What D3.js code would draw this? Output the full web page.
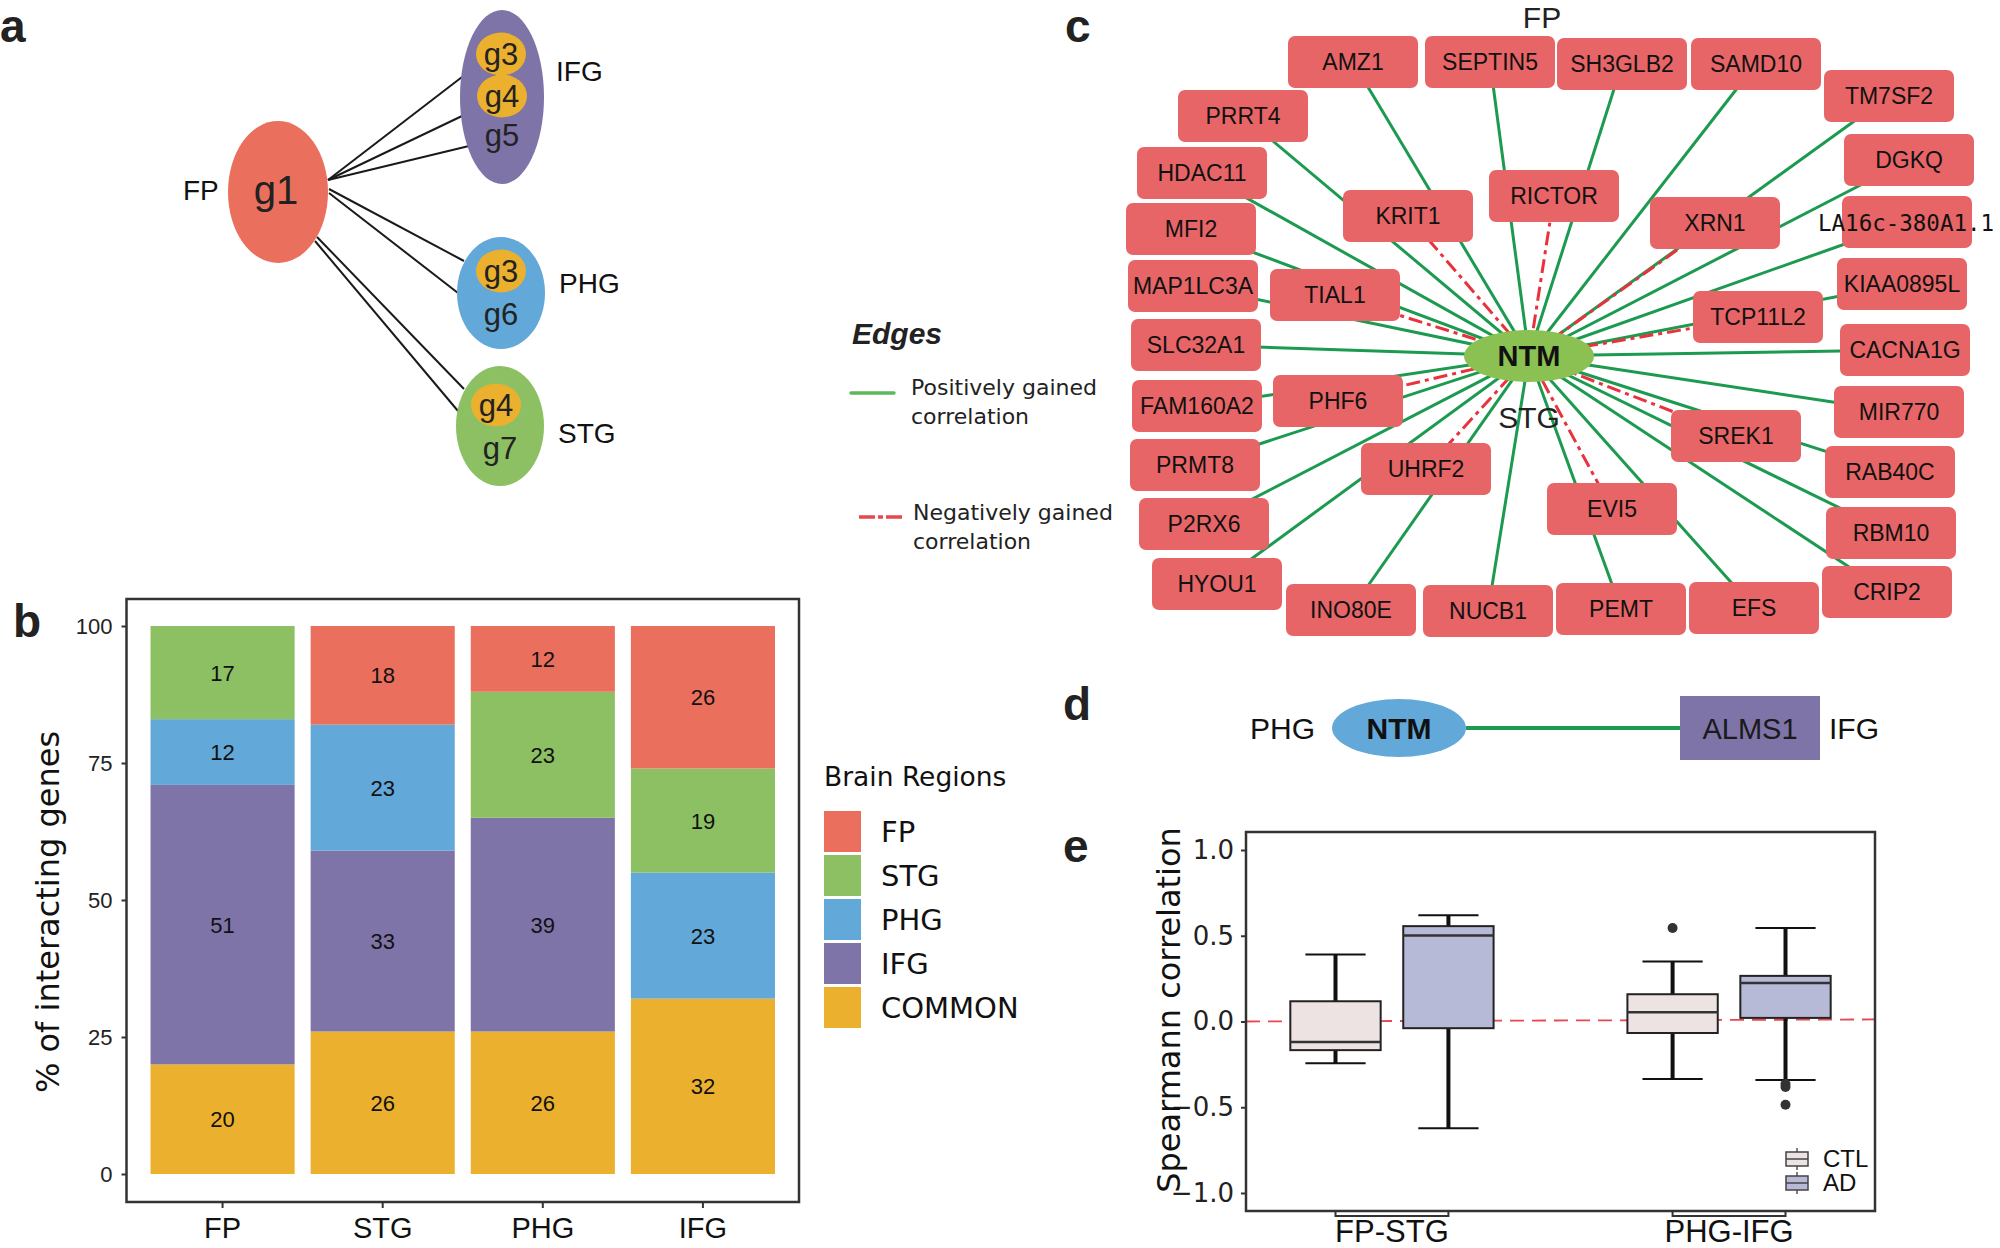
<!DOCTYPE html>
<html>
<head>
<meta charset="utf-8">
<script src="https://cdn.jsdelivr.net/npm/d3@7"></script>
<style>
  body { margin: 0; background: #fff; }
  svg { display: block; }
</style>
</head>
<body>
<script>
// ---------- data ----------
// panel b: % of interacting genes per region, stacked bottom -> top
const regions = ["FP", "STG", "PHG", "IFG"];
const stackKeys = ["COMMON", "IFG", "PHG", "STG", "FP"];
const pctCommon = [20, 26, 26, 32];
const pctIFG = [51, 33, 39, 0];
const pctPHG = [12, 23, 0, 23];
const pctSTG = [17, 0, 23, 19];
const pctFP = [0, 18, 12, 26];
const pctTicks = [0, 25, 50, 75, 100];
const legendRegions = ["FP", "STG", "PHG", "IFG", "COMMON"];

// panel a: genes in each region module
const aTargets = ["IFG", "PHG", "STG"];
const aShared = [["g3", "g4"], ["g3"], ["g4"]];
const aOwn = ["g5", "g6", "g7"];

// panel c: NTM network (FP -> STG)
const hubGene = "NTM";
const posGenes = ["AMZ1", "SEPTIN5", "SH3GLB2", "SAMD10", "TM7SF2", "PRRT4", "DGKQ", "HDAC11",
  "LA16c-380A1.1", "MFI2", "KIAA0895L", "MAP1LC3A", "SLC32A1", "CACNA1G", "FAM160A2", "MIR770",
  "PRMT8", "RAB40C", "P2RX6", "RBM10", "HYOU1", "CRIP2", "INO80E", "NUCB1", "PEMT", "EFS"];
const negGenes = ["RICTOR", "KRIT1", "XRN1", "TIAL1", "TCP11L2", "PHF6", "SREK1", "UHRF2", "EVI5"];

// panel e: Spearman correlation box stats (FP-STG CTL, FP-STG AD, PHG-IFG CTL, PHG-IFG AD)
const boxPairs = ["FP-STG", "PHG-IFG"];
const boxGroups = ["CTL", "AD"];
const boxLow = [-0.243, -0.622, -0.335, -0.341];
const boxQ1 = [-0.167, -0.039, -0.067, 0.021];
const boxMed = [-0.12, 0.502, 0.054, 0.225];
const boxQ3 = [0.118, 0.556, 0.159, 0.266];
const boxHigh = [0.39, 0.62, 0.35, 0.545];
const boxOut = [[], [], [0.545], [-0.365, -0.382, -0.485]];
const corrTicks = [-1, -0.5, 0, 0.5, 1];

// ---------- layout / style ----------
const SANS = "'Liberation Sans', Arial, Helvetica, sans-serif";
const WIDE = "'DejaVu Sans', sans-serif";
const regionColor = { FP: "#EA6F5C", STG: "#8CC063", PHG: "#62A8D8", IFG: "#7E74A8", COMMON: "#EBB02E" };
const boxFill = { CTL: "#EEE3E3", AD: "#B7BAD7" };

// network node placement, offsets from the hub (px)
const netLayout = {
  "AMZ1": [-176, -294], "SEPTIN5": [-39, -294], "SH3GLB2": [93, -292], "SAMD10": [227, -292],
  "TM7SF2": [360, -260], "PRRT4": [-286, -240], "DGKQ": [380, -196], "HDAC11": [-327, -183],
  "RICTOR": [25, -160], "KRIT1": [-121, -140], "XRN1": [186, -133], "LA16c-380A1.1": [378, -134],
  "MFI2": [-338, -127], "KIAA0895L": [373, -72], "MAP1LC3A": [-336, -70], "TIAL1": [-194, -61],
  "TCP11L2": [229, -39], "SLC32A1": [-333, -11], "CACNA1G": [376, -6], "FAM160A2": [-332, 50],
  "PHF6": [-191, 45], "MIR770": [370, 56], "SREK1": [207, 80], "PRMT8": [-334, 109],
  "UHRF2": [-103, 113], "RAB40C": [361, 116], "P2RX6": [-325, 168], "EVI5": [83, 153],
  "RBM10": [362, 177], "HYOU1": [-312, 228], "CRIP2": [358, 236], "INO80E": [-178, 254],
  "NUCB1": [-41, 255], "PEMT": [92, 253], "EFS": [225, 252]
};

const svg = d3.select("body").append("svg")
  .attr("width", 2000).attr("height", 1248)
  .style("font-family", SANS);

function letter(t, x, y) {
  svg.append("text").attr("x", x).attr("y", y).text(t)
    .attr("font-size", 46).attr("font-weight", "bold").attr("fill", "#222");
}
letter("a", 0, 42);
letter("b", 13, 637);
letter("c", 1065, 42);
letter("d", 1063, 720);
letter("e", 1063, 862);

// ---------- panel a ----------
const pa = svg.append("g");
const aFP = { cx: 278, cy: 192, rx: 50, ry: 71 };
const aNodes = [
  { cx: 502, cy: 97, rx: 42, ry: 87, chips: [[501, 54], [502, 96]], own: 146, lab: [556, 81] },
  { cx: 501, cy: 293, rx: 44, ry: 56, chips: [[501, 271]], own: 325, lab: [559, 293] },
  { cx: 500, cy: 426, rx: 44, ry: 60, chips: [[496, 405]], own: 459, lab: [558, 443] }
];
const aLinks = [
  [328, 180, 462, 77], [328, 180, 462, 116], [328, 180, 469, 146],
  [329, 189, 464, 261], [329, 193, 458, 293],
  [317, 237, 464, 389], [315, 241, 458, 411]
];
pa.selectAll("line").data(aLinks).enter().append("line")
  .attr("x1", d => d[0]).attr("y1", d => d[1]).attr("x2", d => d[2]).attr("y2", d => d[3])
  .attr("stroke", "#1a1a1a").attr("stroke-width", 2);
pa.append("ellipse").attr("cx", aFP.cx).attr("cy", aFP.cy).attr("rx", aFP.rx).attr("ry", aFP.ry)
  .attr("fill", regionColor.FP);
pa.append("text").attr("x", 276).attr("y", 204).attr("text-anchor", "middle")
  .attr("font-size", 40).attr("fill", "#222").text("g1");
pa.append("text").attr("x", 183).attr("y", 200).attr("font-size", 28).attr("fill", "#111").text("FP");

aTargets.forEach((r, i) => {
  const n = aNodes[i];
  pa.append("ellipse").attr("cx", n.cx).attr("cy", n.cy).attr("rx", n.rx).attr("ry", n.ry)
    .attr("fill", regionColor[r]);
  aShared[i].forEach((g, j) => {
    const c = n.chips[j];
    pa.append("ellipse").attr("cx", c[0]).attr("cy", c[1]).attr("rx", 25).attr("ry", 21.5)
      .attr("fill", regionColor.COMMON);
    pa.append("text").attr("x", c[0]).attr("y", c[1] + 11).attr("text-anchor", "middle")
      .attr("font-size", 31).attr("fill", "#222").text(g);
  });
  pa.append("text").attr("x", n.cx).attr("y", n.own).attr("text-anchor", "middle")
    .attr("font-size", 31).attr("fill", "#222").text(aOwn[i]);
  pa.append("text").attr("x", n.lab[0]).attr("y", n.lab[1]).attr("font-size", 28)
    .attr("fill", "#111").text(r);
});

// ---------- panel b ----------
const pb = svg.append("g");
const bL = 126.5, bR = 799, bT = 599, bB = 1202;
const xB = d3.scaleBand().domain(regions).range([bL, bR]).paddingInner(0.1).paddingOuter(0.15);
const yB = d3.scaleLinear().domain([0, 100]).range([1174, 626]);
const tableB = regions.map((r, i) => ({
  region: r, COMMON: pctCommon[i], IFG: pctIFG[i], PHG: pctPHG[i], STG: pctSTG[i], FP: pctFP[i]
}));
const series = d3.stack().keys(stackKeys)(tableB);

series.forEach(s => {
  const g = pb.append("g").attr("fill", regionColor[s.key]);
  g.selectAll("rect").data(s).enter().append("rect")
    .attr("x", d => xB(d.data.region)).attr("width", xB.bandwidth())
    .attr("y", d => yB(d[1])).attr("height", d => yB(d[0]) - yB(d[1]));
  pb.append("g").selectAll("text").data(s.filter(d => d[1] - d[0] > 0)).enter().append("text")
    .attr("x", d => xB(d.data.region) + xB.bandwidth() / 2)
    .attr("y", d => yB((d[0] + d[1]) / 2) + 8)
    .attr("text-anchor", "middle").attr("font-size", 22).attr("fill", "#111")
    .text(d => d[1] - d[0]);
});

pb.append("rect").attr("x", bL).attr("y", bT).attr("width", bR - bL).attr("height", bB - bT)
  .attr("fill", "none").attr("stroke", "#333").attr("stroke-width", 2.5);

const yAxB = pb.append("g").attr("transform", `translate(${bL},0)`)
  .call(d3.axisLeft(yB).tickValues(pctTicks).tickSize(5).tickPadding(9));
yAxB.select(".domain").remove();
yAxB.selectAll("line").attr("stroke", "#333").attr("stroke-width", 2);
yAxB.selectAll("text").attr("font-size", 22).attr("font-family", SANS).attr("fill", "#222");

pb.selectAll(".xtick").data(regions).enter().append("line")
  .attr("x1", d => xB(d) + xB.bandwidth() / 2).attr("x2", d => xB(d) + xB.bandwidth() / 2)
  .attr("y1", bB).attr("y2", bB + 6).attr("stroke", "#333").attr("stroke-width", 2);
pb.selectAll(".xlab").data(regions).enter().append("text")
  .attr("x", d => xB(d) + xB.bandwidth() / 2).attr("y", 1238)
  .attr("text-anchor", "middle").attr("font-size", 29).attr("fill", "#111").text(d => d);

pb.append("text").attr("transform", "translate(59,912) rotate(-90)")
  .attr("text-anchor", "middle").attr("font-family", WIDE).attr("font-size", 32)
  .attr("fill", "#111").text("% of interacting genes");

// legend: Brain Regions
const lg = svg.append("g");
lg.append("text").attr("x", 824).attr("y", 786).attr("font-family", WIDE).attr("font-size", 26.5)
  .attr("fill", "#111").text("Brain Regions");
legendRegions.forEach((r, i) => {
  lg.append("rect").attr("x", 824).attr("y", 811 + i * 44).attr("width", 37).attr("height", 41)
    .attr("fill", regionColor[r]);
  lg.append("text").attr("x", 881).attr("y", 842 + i * 44).attr("font-family", WIDE)
    .attr("font-size", 29).attr("fill", "#111").text(r);
});

// legend: Edges
const le = svg.append("g");
le.append("text").attr("x", 852).attr("y", 344).attr("font-size", 30).attr("font-weight", "bold")
  .attr("font-style", "italic").attr("fill", "#222").text("Edges");
le.append("line").attr("x1", 851).attr("x2", 894).attr("y1", 393).attr("y2", 393)
  .attr("stroke", "#5DB85C").attr("stroke-width", 3.5).attr("stroke-linecap", "round");
le.append("line").attr("x1", 859).attr("x2", 903).attr("y1", 517).attr("y2", 517)
  .attr("stroke", "#E8474E").attr("stroke-width", 3.5).attr("stroke-dasharray", "16,3,5,3");
[["Positively gained", 395], ["correlation", 424], ["Negatively gained", 520], ["correlation", 549]]
  .forEach((t, i) => {
    le.append("text").attr("x", i < 2 ? 911 : 913).attr("y", t[1]).attr("font-family", WIDE)
      .attr("font-size", 22).attr("fill", "#222").text(t[0]);
  });

// ---------- panel c ----------
const pc = svg.append("g");
const hub = { x: 1529, y: 356 };
const xN = d3.scaleLinear().domain([-1, 1]).range([hub.x - 1, hub.x + 1]);
const yN = d3.scaleLinear().domain([-1, 1]).range([hub.y - 1, hub.y + 1]);
const nodes = posGenes.map(g => ({ name: g, sign: 1 }))
  .concat(negGenes.map(g => ({ name: g, sign: -1 })));
nodes.forEach(n => { n.x = xN(netLayout[n.name][0]); n.y = yN(netLayout[n.name][1]); });

pc.selectAll(".pos").data(nodes.filter(n => n.sign > 0)).enter().append("line")
  .attr("x1", hub.x).attr("y1", hub.y).attr("x2", d => d.x).attr("y2", d => d.y)
  .attr("stroke", "#1C9A50").attr("stroke-width", 3);
pc.selectAll(".neg").data(nodes.filter(n => n.sign < 0)).enter().append("line")
  .attr("x1", hub.x).attr("y1", hub.y).attr("x2", d => d.x).attr("y2", d => d.y)
  .attr("stroke", "#E8323C").attr("stroke-width", 3).attr("stroke-dasharray", "14,5,4,5");

pc.append("ellipse").attr("cx", hub.x).attr("cy", hub.y).attr("rx", 65).attr("ry", 26)
  .attr("fill", "#8BC153");
pc.append("text").attr("x", hub.x).attr("y", hub.y + 10).attr("text-anchor", "middle")
  .attr("font-size", 29).attr("font-weight", "bold").attr("fill", "#111").text(hubGene);

const nodeG = pc.selectAll(".node").data(nodes).enter().append("g");
nodeG.append("rect").attr("x", d => d.x - 65).attr("y", d => d.y - 26)
  .attr("width", 130).attr("height", 52).attr("rx", 7).attr("fill", "#E76566");
nodeG.filter(d => d.name !== "LA16c-380A1.1").append("text")
  .attr("x", d => d.x).attr("y", d => d.y + 8).attr("text-anchor", "middle")
  .attr("font-size", 23).attr("fill", "#111").text(d => d.name);
nodeG.filter(d => d.name === "LA16c-380A1.1").append("text")
  .attr("x", d => d.x - 89).attr("y", d => d.y + 9)
  .attr("font-family", "'DejaVu Sans Mono', monospace").attr("font-size", 22.5)
  .attr("fill", "#111").text(d => d.name);

pc.append("text").attr("x", 1542).attr("y", 28).attr("text-anchor", "middle")
  .attr("font-size", 30).attr("fill", "#222").text("FP");
pc.append("text").attr("x", 1529).attr("y", 428).attr("text-anchor", "middle")
  .attr("font-size", 30).attr("fill", "#222").text("STG");

// ---------- panel d ----------
const pd = svg.append("g");
pd.append("text").attr("x", 1250).attr("y", 739).attr("font-size", 30).attr("fill", "#111").text("PHG");
pd.append("line").attr("x1", 1466).attr("x2", 1680).attr("y1", 728).attr("y2", 728)
  .attr("stroke", "#1C9A50").attr("stroke-width", 4);
pd.append("ellipse").attr("cx", 1399).attr("cy", 728).attr("rx", 67).attr("ry", 29)
  .attr("fill", regionColor.PHG);
pd.append("text").attr("x", 1399).attr("y", 739).attr("text-anchor", "middle").attr("font-size", 30)
  .attr("font-weight", "bold").attr("fill", "#111").text("NTM");
pd.append("rect").attr("x", 1680).attr("y", 696).attr("width", 140).attr("height", 64)
  .attr("fill", regionColor.IFG);
pd.append("text").attr("x", 1750).attr("y", 739).attr("text-anchor", "middle").attr("font-size", 29)
  .attr("fill", "#1a1a1a").text("ALMS1");
pd.append("text").attr("x", 1829).attr("y", 739).attr("font-size", 30).attr("fill", "#111").text("IFG");

// ---------- panel e ----------
const pe = svg.append("g");
const eL = 1246, eR = 1875, eT = 832, eB = 1211;
const xE = d3.scaleBand().domain(boxPairs).range([eL, eR]).paddingInner(0.33).paddingOuter(0.098);
const xG = d3.scaleBand().domain(boxGroups).range([0, xE.bandwidth()]).paddingInner(0.2).paddingOuter(0.1);
const yE = d3.scaleLinear().domain([-1, 1]).range([1193, 850]);

const boxes = [];
boxPairs.forEach((p, i) => boxGroups.forEach((g, j) => {
  const k = i * 2 + j;
  boxes.push({ pair: p, group: g, lo: boxLow[k], q1: boxQ1[k], med: boxMed[k], q3: boxQ3[k],
    hi: boxHigh[k], out: boxOut[k], x0: xE(p) + xG(g) });
}));
const bw = xG.bandwidth();

pe.append("line").attr("x1", eL).attr("x2", eR).attr("y1", yE(0)).attr("y2", yE(0.012))
  .attr("stroke", "#E8474F").attr("stroke-width", 1.8).attr("stroke-dasharray", "14,8");

boxes.forEach(b => {
  const cx = b.x0 + bw / 2;
  pe.append("line").attr("x1", cx).attr("x2", cx).attr("y1", yE(b.hi)).attr("y2", yE(b.q3))
    .attr("stroke", "#111").attr("stroke-width", 4);
  pe.append("line").attr("x1", cx).attr("x2", cx).attr("y1", yE(b.q1)).attr("y2", yE(b.lo))
    .attr("stroke", "#111").attr("stroke-width", 4);
  [b.hi, b.lo].forEach(v => pe.append("line").attr("x1", cx - bw / 3).attr("x2", cx + bw / 3)
    .attr("y1", yE(v)).attr("y2", yE(v)).attr("stroke", "#111").attr("stroke-width", 2));
  pe.append("rect").attr("x", b.x0).attr("width", bw).attr("y", yE(b.q3))
    .attr("height", yE(b.q1) - yE(b.q3)).attr("fill", boxFill[b.group])
    .attr("stroke", "#222").attr("stroke-width", 2);
  pe.append("line").attr("x1", b.x0).attr("x2", b.x0 + bw).attr("y1", yE(b.med)).attr("y2", yE(b.med))
    .attr("stroke", "#333").attr("stroke-width", 2.5);
  pe.selectAll(null).data(b.out).enter().append("circle")
    .attr("cx", cx).attr("cy", d => yE(d)).attr("r", 5).attr("fill", "#333");
});

pe.append("rect").attr("x", eL).attr("y", eT).attr("width", eR - eL).attr("height", eB - eT)
  .attr("fill", "none").attr("stroke", "#333").attr("stroke-width", 2.5);

const yAxE = pe.append("g").attr("transform", `translate(${eL},0)`)
  .call(d3.axisLeft(yE).tickValues(corrTicks).tickSize(5).tickPadding(7).tickFormat(d3.format(".1f")));
yAxE.select(".domain").remove();
yAxE.selectAll("line").attr("stroke", "#333").attr("stroke-width", 2);
yAxE.selectAll("text").attr("font-size", 26).attr("font-family", WIDE).attr("fill", "#222");

boxPairs.forEach(p => {
  const a = xE(p) + xG("CTL") + bw / 2, b = xE(p) + xG("AD") + bw / 2;
  pe.append("path").attr("d", `M${a},${eB}V${eB + 5}H${b}V${eB}`)
    .attr("fill", "none").attr("stroke", "#333").attr("stroke-width", 2);
  pe.append("text").attr("x", (a + b) / 2).attr("y", 1242).attr("text-anchor", "middle")
    .attr("font-size", 31).attr("fill", "#111").text(p);
});

pe.append("text").attr("transform", "translate(1180,1010) rotate(-90)")
  .attr("text-anchor", "middle").attr("font-family", WIDE).attr("font-size", 32)
  .attr("fill", "#111").text("Spearmann correlation");

// box legend
boxGroups.forEach((g, i) => {
  const y0 = 1152 + i * 24;
  pe.append("line").attr("x1", 1797).attr("x2", 1797).attr("y1", y0 - 4).attr("y2", y0 + 18)
    .attr("stroke", "#555").attr("stroke-width", 1.5);
  pe.append("rect").attr("x", 1786).attr("y", y0).attr("width", 22).attr("height", 14)
    .attr("fill", boxFill[g]).attr("stroke", "#444").attr("stroke-width", 1.5);
  pe.append("line").attr("x1", 1786).attr("x2", 1808).attr("y1", y0 + 7).attr("y2", y0 + 7)
    .attr("stroke", "#444").attr("stroke-width", 1.5);
  pe.append("text").attr("x", 1823).attr("y", y0 + 15).attr("font-size", 24).attr("fill", "#111").text(g);
});
</script>
</body>
</html>
